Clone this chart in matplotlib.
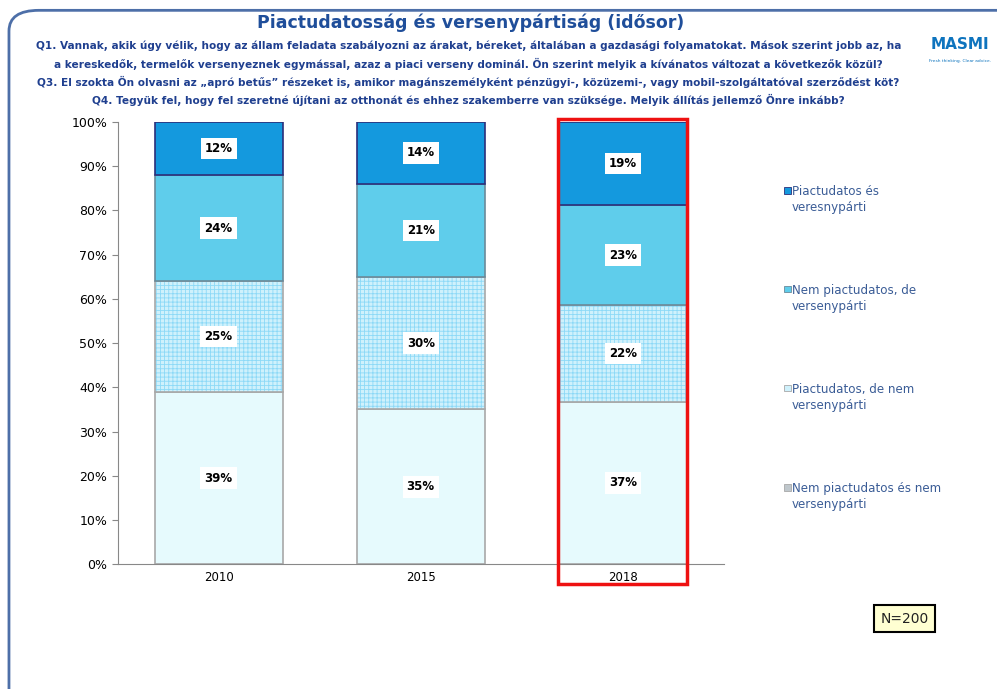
import numpy as np
import matplotlib.pyplot as plt
from matplotlib.patches import FancyBboxPatch, Rectangle

plt.rcParams['font.family'] = ['DejaVu Sans']
plt.rcParams['hatch.linewidth'] = 0.6

# data
years = ['2010', '2015', '2018']
nem_nem = [39, 35, 36.8]        # Nem piactudatos és nem versenypárti
piac_nem = [25, 30, 21.8]       # Piactudatos, de nem versenypárti
nem_verseny = [24, 21, 22.6]    # Nem piactudatos, de versenypárti
piac_verseny = [12, 14, 18.8]   # Piactudatos és veresnypárti

series = [nem_nem, piac_nem, nem_verseny, piac_verseny]
names = ['Nem piactudatos és nem\nversenypárti',
         'Piactudatos, de nem\nversenypárti',
         'Nem piactudatos, de\nversenypárti',
         'Piactudatos és\nveresnypárti']
faces = ['#E6FAFD', '#CFF1FC', '#5FCDEB', '#1499DE']
edges = ['#A8A8A8', '#A8A8A8', '#6A8A9A', '#2B2F7A']
hatches = [None, '++++', None, None]

fig = plt.figure(figsize=(9.97, 6.89), dpi=100)
ax = fig.add_axes([0.118, 0.181, 0.608, 0.642])

x = np.arange(len(years))
bottom = np.zeros(len(years))
for vals, fc, ec, h in zip(series, faces, edges, hatches):
    bars = ax.bar(x, vals, 0.635, bottom=bottom, color=fc, edgecolor=ec, linewidth=1.2, zorder=2)
    if h:
        for b in bars:
            b.set_hatch(h)
            b._hatch_color = (0.55, 0.85, 0.97, 1.0)
    for xi, v, b0 in zip(x, vals, bottom):
        ax.text(xi, b0 + v / 2, '%d%%' % round(v), ha='center', va='center', fontsize=8.5,
                fontweight='bold', color='black', zorder=4,
                bbox=dict(boxstyle='square,pad=0.35', fc='white', ec='none'))
    bottom += np.array(vals)

ax.set_xlim(-0.5, 2.5)
ax.set_ylim(0, 100)
ax.set_yticks(range(0, 101, 10))
ax.set_yticklabels(['%d%%' % v for v in range(0, 101, 10)], fontsize=9)
ax.set_xticks(x)
ax.set_xticklabels(years, fontsize=8.5)
ax.tick_params(axis='x', length=0, pad=5)
ax.tick_params(axis='y', length=4, color='#888888')
for s in ['top', 'right']:
    ax.spines[s].set_visible(False)
ax.spines['left'].set_color('#888888')
ax.spines['bottom'].set_color('#888888')

# red highlight around 2018
ax.add_patch(Rectangle((1.68, -4.5), 0.64, 105.2, fill=False, ec='#EE1111', lw=2.5,
                       clip_on=False, zorder=5))

# legend
leg_y = [0.725, 0.582, 0.438, 0.294]
for yy, name, fc, ec in zip(leg_y, names[::-1], faces[::-1], edges[::-1]):
    fig.patches.append(Rectangle((0.7865, yy - 0.006), 0.0065, 0.0095, transform=fig.transFigure,
                                 fc=fc if fc != '#E6FAFD' else '#BFC7CC', ec=ec, lw=0.6))
    fig.text(0.7945, yy + 0.006, name, fontsize=8.6, color='#3A5C96', va='top', ha='left',
             linespacing=1.3)

# titles
fig.text(0.472, 0.967, 'Piactudatosság és versenypártiság (idősor)', ha='center', va='center',
         fontsize=12.5, fontweight='bold', color='#1F4E9A')
questions = [
    'Q1. Vannak, akik úgy vélik, hogy az állam feladata szabályozni az árakat, béreket, általában a gazdasági folyamatokat. Mások szerint jobb az, ha',
    'a kereskedők, termelők versenyeznek egymással, azaz a piaci verseny dominál. Ön szerint melyik a kívánatos változat a következők közül?',
    'Q3. El szokta Ön olvasni az „apró betűs” részeket is, amikor magánszemélyként pénzügyi-, közüzemi-, vagy mobil-szolgáltatóval szerződést köt?',
    'Q4. Tegyük fel, hogy fel szeretné újítani az otthonát és ehhez szakemberre van szüksége. Melyik állítás jellemző Önre inkább?',
]
for i, q in enumerate(questions):
    fig.text(0.47, 0.933 - i * 0.0258, q, ha='center', va='center', fontsize=7.6,
             fontweight='bold', color='#1F3F8F')

# logo
fig.text(0.963, 0.935, 'MASMI', ha='center', va='center', fontsize=11, fontweight='bold',
         color='#0E74BE')
fig.text(0.963, 0.912, 'Fresh thinking. Clear advice.', ha='center', va='center', fontsize=3.2,
         color='#0E74BE')

# N box
fig.text(0.9075, 0.102, 'N=200', ha='center', va='center', fontsize=10, color='#222222',
         bbox=dict(boxstyle='square,pad=0.45', fc='#FFFFD2', ec='black', lw=1.5))

# frame
fig.patches.append(FancyBboxPatch((0.009, -0.05), 1.05, 1.035, boxstyle='round,pad=0,rounding_size=0.03',
                                  transform=fig.transFigure, fill=False, ec='#4D6FA8', lw=2))

fig.savefig('out.png', dpi=100)
